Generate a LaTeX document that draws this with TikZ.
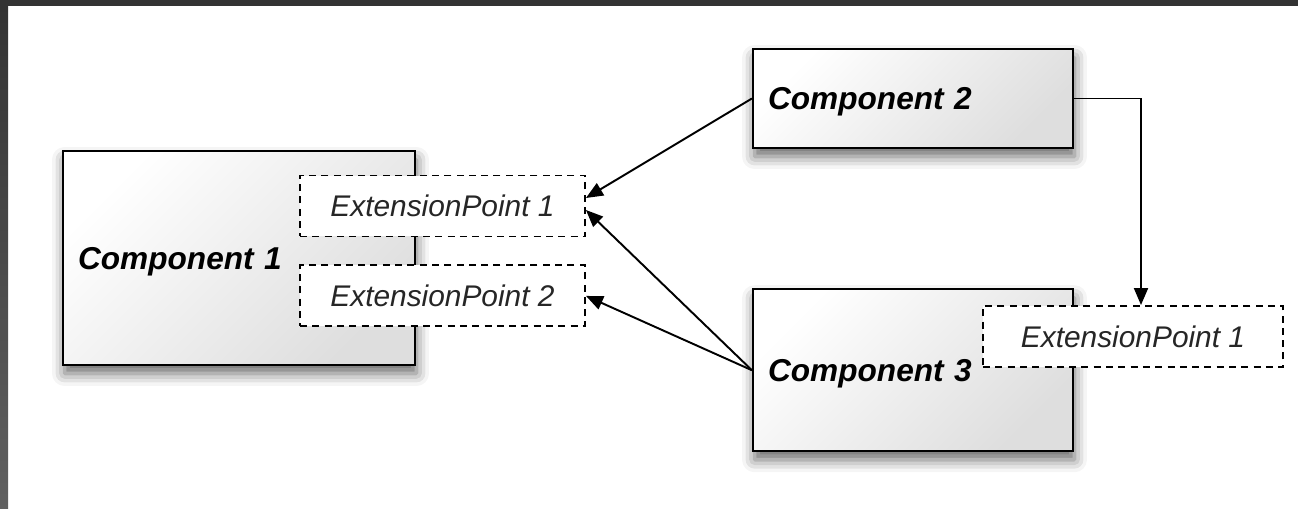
\documentclass[tikz,border=0pt]{standalone}
\usepackage{fontspec}
\setmainfont{Liberation Sans}
\usetikzlibrary{positioning,arrows.meta,shadows.blur}

\begin{document}
\begin{tikzpicture}[x=0.02cm,y=-0.02cm,
	comp/.style={rectangle,draw,line width=1.3pt,top color=white,bottom color=black!13,shading angle=45,
		blur shadow={shadow xshift=0.03cm,shadow yshift=-0.17cm,shadow blur radius=0.25cm,shadow opacity=60},
		inner xsep=0.3cm,align=left,text depth=0pt,font=\fontsize{18}{20}\selectfont\bfseries\itshape},
	ext/.style={rectangle,draw,dash pattern=on 4pt off 3pt,line width=1.1pt,fill=white,
		minimum height=1.22cm,font=\fontsize{17}{20}\selectfont\itshape,text=black!85},
	arr/.style={-{Triangle[length=0.34cm,width=0.28cm]},line width=1.1pt}]
	\useasboundingbox (0,0) rectangle (1298,509);
	\fill[black!80] (0,0) rectangle (1298,6);
	\shade[top color=black!80,bottom color=black!62] (0,6) rectangle (8,509);
	\node [comp,text width=6.44cm,minimum height=4.28cm] (c1) at (239,258) {Component 1};
	\node [comp,text width=5.8cm,minimum height=1.98cm] (c2) at (913,98.5) {Component 2};
	\node [comp,text width=5.8cm,minimum height=3.24cm,below=2.78cm of c2] (c3) {Component 3};
	\node [ext,minimum width=5.7cm] (ep1) at (442.5,206) {ExtensionPoint 1};
	\node [ext,minimum width=5.7cm,below=0.54cm of ep1] (ep2) {ExtensionPoint 2};
	\node [ext,minimum width=6cm] (ep3) at (1133,336.5) {ExtensionPoint 1};
	\draw [arr] (c2.west) -- ([yshift=0.16cm]ep1.east);
	\draw [arr] (c3.west) -- ([yshift=-0.08cm]ep1.east);
	\draw [arr] (c3.west) -- (ep2.east);
	\draw [arr] (c2.east) -| ([xshift=0.16cm]ep3.north);
\end{tikzpicture}
\end{document}
